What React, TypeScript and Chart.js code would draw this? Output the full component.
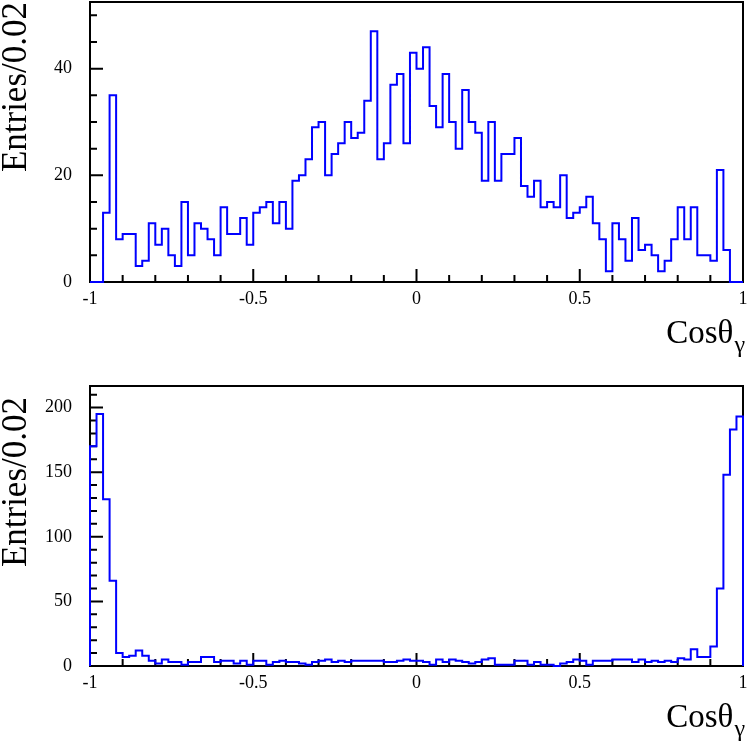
import React, { useEffect, useRef } from "react";
import { Chart, registerables } from "chart.js";

Chart.register(...registerables);

// ---- data ----
const X_MIN = -1;
const X_MAX = 1;
const BIN_WIDTH = 0.02;

const topCounts = [
  0, 0, 13, 35, 8, 9, 9, 3, 4, 11,
  7, 10, 5, 3, 15, 5, 11, 10, 8, 5,
  14, 9, 9, 12, 7, 13, 14, 15, 11, 15,
  10, 19, 20, 23, 29, 30, 20, 24, 26, 30,
  27, 28, 34, 47, 23, 26, 37, 39, 26, 43,
  40, 44, 33, 29, 39, 30, 25, 36, 30, 28,
  19, 30, 19, 24, 24, 27, 18, 16, 19, 14,
  15, 14, 20, 12, 13, 14, 16, 11, 8, 2,
  11, 8, 4, 12, 6, 7, 5, 2, 4, 8,
  14, 8, 14, 5, 5, 4, 21, 6, 0, 0,
];

const bottomCounts = [
  170, 195, 129, 66, 10, 7, 8, 12, 8, 4,
  2, 5, 3, 3, 1, 3, 3, 7, 7, 3,
  4, 4, 2, 4, 1, 4, 4, 1, 3, 4,
  3, 3, 2, 1, 3, 4, 5, 3, 4, 3,
  4, 4, 4, 4, 4, 3, 3, 4, 5, 4,
  4, 3, 1, 5, 3, 5, 4, 3, 2, 3,
  5, 6, 1, 1, 1, 4, 4, 1, 3, 1,
  1, 0, 2, 3, 5, 4, 1, 4, 4, 4,
  5, 5, 5, 3, 5, 3, 4, 3, 4, 3,
  6, 5, 13, 7, 7, 15, 60, 148, 183, 193,
];

const xTickValues = [-1, -0.5, 0, 0.5, 1];
const topYTicks = [0, 20, 40];
const bottomYTicks = [0, 50, 100, 150, 200];
const yTitleText = "Entries/0.02";
const xTitleMain = "Cosθ";
const xTitleSub = "γ";

const FONT = "'Liberation Serif', 'DejaVu Serif', 'Times New Roman', serif";
const LINE_BLUE = "#0000ff";

function stepPoints(counts: number[]) {
  const pts: { x: number; y: number }[] = [{ x: X_MIN, y: 0 }];
  counts.forEach((c, i) => pts.push({ x: X_MIN + i * BIN_WIDTH, y: c }));
  pts.push({ x: X_MAX, y: counts[counts.length - 1] });
  pts.push({ x: X_MAX, y: 0 });
  return pts;
}

type PanelCfg = {
  counts: number[];
  yMax: number;
  yTicks: number[];
  yMinor: number;
  yMinorPerMajor: number;
  padTop: number;
  xAxisHeight: number;
  xTitleOffset: number;
  yTitleEnd: number;
};

function framePlugin(cfg: PanelCfg) {
  return {
    id: "rootFrame",
    beforeDatasetsDraw(chart: any) {
      const { ctx, chartArea: a, scales } = chart;
      const x = scales.x;
      const y = scales.y;
      ctx.save();
      ctx.strokeStyle = "#000";
      ctx.lineWidth = 2;
      ctx.strokeRect(a.left, a.top, a.right - a.left, a.bottom - a.top);
      ctx.beginPath();
      for (let k = 0; k <= 20; k++) {
        const v = X_MIN + k * 0.1;
        const px = x.getPixelForValue(v);
        const len = k % 5 === 0 ? 13 : 7;
        ctx.moveTo(px, a.bottom);
        ctx.lineTo(px, a.bottom - len);
      }
      for (let k = 0; k * cfg.yMinor <= cfg.yMax; k++) {
        const py = y.getPixelForValue(k * cfg.yMinor);
        const len = k % cfg.yMinorPerMajor === 0 ? 13 : 7;
        ctx.moveTo(a.left, py);
        ctx.lineTo(a.left + len, py);
      }
      ctx.stroke();
      ctx.restore();
    },
    afterDraw(chart: any) {
      const { ctx, chartArea: a } = chart;
      ctx.save();
      ctx.fillStyle = "#000";
      // y title
      ctx.translate(26, cfg.yTitleEnd);
      ctx.rotate(-Math.PI / 2);
      ctx.font = `35px ${FONT}`;
      ctx.textAlign = "right";
      ctx.textBaseline = "alphabetic";
      ctx.fillText(yTitleText, 0, 0);
      ctx.restore();
      // x title
      ctx.save();
      ctx.fillStyle = "#000";
      ctx.textAlign = "right";
      ctx.textBaseline = "alphabetic";
      ctx.font = `24px ${FONT}`;
      const subW = ctx.measureText(xTitleSub).width;
      const base = a.bottom + cfg.xTitleOffset;
      ctx.fillText(xTitleSub, 745, base + 9);
      ctx.font = `33px ${FONT}`;
      ctx.fillText(xTitleMain, 745 - subW - 1, base);
      ctx.restore();
    },
  };
}

function makeChart(canvas: HTMLCanvasElement, cfg: PanelCfg) {
  return new Chart(canvas, {
    type: "line",
    data: {
      datasets: [
        {
          data: stepPoints(cfg.counts),
          stepped: "before",
          borderColor: LINE_BLUE,
          borderWidth: 2,
          pointRadius: 0,
          fill: false,
          clip: false as any,
        },
      ],
    },
    options: {
      responsive: false,
      animation: false,
      devicePixelRatio: 1,
      layout: { padding: { top: cfg.padTop, right: 4, left: 0, bottom: 0 } },
      plugins: { legend: { display: false }, tooltip: { enabled: false } },
      scales: {
        x: {
          type: "linear",
          min: X_MIN,
          max: X_MAX,
          grid: { display: false, drawTicks: false },
          border: { display: false },
          afterBuildTicks: (s: any) => {
            s.ticks = xTickValues.map((v) => ({ value: v }));
          },
          afterFit: (s: any) => {
            s.height = cfg.xAxisHeight;
            s.paddingLeft = 0;
            s.paddingRight = 0;
          },
          ticks: {
            padding: 6,
            color: "#000",
            maxRotation: 0,
            autoSkip: false,
            font: { family: FONT, size: 18 },
            callback: (v: any) => String(v),
          },
        },
        y: {
          type: "linear",
          min: 0,
          max: cfg.yMax,
          grid: { display: false, drawTicks: false },
          border: { display: false },
          afterBuildTicks: (s: any) => {
            s.ticks = cfg.yTicks.map((v) => ({ value: v }));
          },
          afterFit: (s: any) => {
            s.width = 90;
            s.paddingTop = 0;
            s.paddingBottom = 0;
          },
          ticks: {
            padding: 18,
            color: "#000",
            autoSkip: false,
            font: { family: FONT, size: 18 },
            callback: (v: any) => String(v),
          },
        },
      },
    },
    plugins: [framePlugin(cfg)],
  } as any);
}

export default function App() {
  const topRef = useRef<HTMLCanvasElement>(null);
  const bottomRef = useRef<HTMLCanvasElement>(null);

  useEffect(() => {
    const c1 = makeChart(topRef.current!, {
      counts: topCounts,
      yMax: 52.5,
      yTicks: topYTicks,
      yMinor: 5,
      yMinorPerMajor: 4,
      padTop: 2,
      xAxisHeight: 91,
      xTitleOffset: 61,
      yTitleEnd: 2,
    });
    const c2 = makeChart(bottomRef.current!, {
      counts: bottomCounts,
      yMax: 216.7,
      yTicks: bottomYTicks,
      yMinor: 10,
      yMinorPerMajor: 5,
      padTop: 13,
      xAxisHeight: 80,
      xTitleOffset: 61,
      yTitleEnd: 24,
    });
    return () => {
      c1.destroy();
      c2.destroy();
    };
  }, []);

  return (
    <div style={{ position: "absolute", left: 0, top: 0, width: 747, height: 746, background: "#fff" }}>
      <canvas ref={topRef} width={747} height={373} style={{ display: "block", width: 747, height: 373 }} />
      <canvas ref={bottomRef} width={747} height={373} style={{ display: "block", width: 747, height: 373 }} />
    </div>
  );
}
